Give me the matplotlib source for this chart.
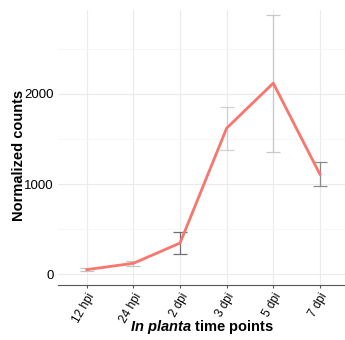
import matplotlib.pyplot as plt

## Data
time_points = ["12 hpi", "24 hpi", "2 dpi", "3 dpi", "5 dpi", "7 dpi"]
mean_counts = [50, 120, 345, 1620, 2120, 1110]
sd_counts = [20, 30, 120, 240, 760, 135]

## error bar shade per time point (some are fainter in the reference)
bar_colors = ["#c4c4c4", "#c4c4c4", "#707070", "#d0d0d0", "#c8c8c8", "#8a8a8a"]

plt.rcParams["font.family"] = ["Liberation Sans", "DejaVu Sans"]
plt.rcParams["mathtext.fontset"] = "custom"
plt.rcParams["mathtext.it"] = "Liberation Sans:italic:bold"
plt.rcParams["mathtext.rm"] = "Liberation Sans:bold"

fig = plt.figure(figsize=(3.45, 3.4), dpi=100)
ax = fig.add_axes([0.168, 0.162, 0.832, 0.808])

x = list(range(len(time_points)))

## Error bars underneath the line
for xi, m, s, c in zip(x, mean_counts, sd_counts, bar_colors):
    ax.errorbar(
        xi,
        m,
        yerr=s,
        fmt="none",
        ecolor=c,
        elinewidth=0.9,
        capsize=5,
        capthick=0.9,
        zorder=2,
    )
ax.plot(x, mean_counts, color="#F8766D", linewidth=2, zorder=3)

ax.set_xlim(-0.62, 5.54)
ax.set_ylim(-120, 2930)
ax.set_xticks(x)
ax.set_xticklabels(time_points, rotation=60, ha="right", rotation_mode="anchor")
ax.set_yticks([0, 1000, 2000])
ax.set_yticks([500, 1500, 2500], minor=True)

## ggplot-like minimal look
ax.grid(which="major", color="#ebebeb", linewidth=0.8)
ax.grid(which="minor", axis="y", color="#f5f5f5", linewidth=0.6)
ax.set_axisbelow(True)
for side in ["top", "right", "left"]:
    ax.spines[side].set_visible(False)
ax.spines["bottom"].set_color("#555555")
ax.spines["bottom"].set_linewidth(0.8)
ax.tick_params(axis="y", which="both", length=0, labelsize=9.5, pad=3)
ax.tick_params(axis="x", length=2.5, color="#555555", labelsize=8.5, pad=2)

ax.set_ylabel("Normalized counts", fontsize=10.5, fontweight="bold", va="center")
ax.yaxis.set_label_coords(-0.135, 0.47)
ax.set_xlabel(r"$In\ planta$ time points", fontsize=10.5, fontweight="bold", va="center")
ax.xaxis.set_label_coords(0.5, -0.153)

plt.savefig("out.png", dpi=100)
